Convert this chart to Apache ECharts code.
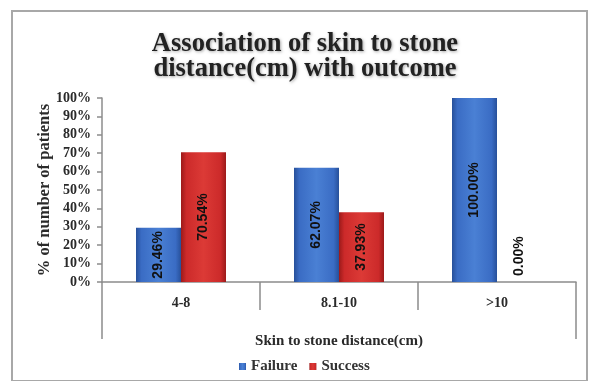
<!DOCTYPE html>
<html>
<head>
<meta charset="utf-8">
<script src="https://cdn.jsdelivr.net/npm/echarts@6/dist/echarts.min.js"></script>
<style>
  html, body { margin: 0; padding: 0; background: #fff; }
  #frame { position: absolute; left: 11px; top: 10px; width: 577px; height: 372px; border: 2px solid #a8a8a8; box-sizing: border-box; }
  #chart { position: absolute; left: 0; top: 0; width: 598px; height: 381px; }
</style>
</head>
<body>
<div id="frame"></div>
<div id="chart"></div>
<script>
var categories = ['4-8', '8.1-10', '>10'];
var failureValues = [29.46, 62.07, 100.00];
var successValues = [70.54, 37.93, 0.00];
var seriesNames = ['Failure', 'Success'];
var yTickMax = 100;
var yTickStep = 10;

var serif = '"Liberation Serif", "Times New Roman", serif';
var sans = '"Liberation Sans", Arial, sans-serif';

function grad(dark, base, light) {
  return new echarts.graphic.LinearGradient(0, 0, 1, 0, [
    { offset: 0, color: dark },
    { offset: 0.12, color: base },
    { offset: 0.5, color: light },
    { offset: 0.88, color: base },
    { offset: 1, color: dark }
  ]);
}

var barLabel = {
  show: true,
  position: 'inside',
  rotate: 90,
  fontFamily: sans,
  fontWeight: 'bold',
  fontSize: 14,
  color: '#111',
  formatter: function (p) { return p.value.toFixed(2) + '%'; }
};

function toData(values) {
  return values.map(function (v) {
    if (v === 0) {
      return { value: v, label: { position: 'insideBottom', align: 'left', verticalAlign: 'middle', distance: 6 } };
    }
    return v;
  });
}

var chart = echarts.init(document.getElementById('chart'), null, { renderer: 'canvas' });
chart.setOption({
  animation: false,
  backgroundColor: 'transparent',
  title: {
    text: 'Association of skin to stone\ndistance(cm) with outcome',
    left: 300,
    textAlign: 'center',
    top: 27,
    textStyle: {
      fontFamily: serif,
      fontWeight: 'bold',
      fontSize: 26.5,
      lineHeight: 25,
      color: '#222',
      textShadowColor: 'rgba(0,0,0,0.35)',
      textShadowBlur: 3,
      textShadowOffsetX: 1,
      textShadowOffsetY: 1
    }
  },
  legend: {
    data: seriesNames,
    left: 234,
    top: 354,
    itemWidth: 7,
    itemHeight: 7,
    itemGap: 12,
    icon: 'rect',
    textStyle: { fontFamily: serif, fontWeight: 'bold', fontSize: 15, color: '#333' }
  },
  grid: { left: 102, right: 22, top: 98, bottom: 99, containLabel: false },
  xAxis: [{
    type: 'category',
    data: categories,
    position: 'bottom',
    axisLine: { show: true, lineStyle: { color: '#8c8c8c', width: 1.5 } },
    axisTick: { show: true, interval: 0, length: 28, lineStyle: { color: '#8c8c8c', width: 1.5 } },
    axisLabel: { margin: 14, fontFamily: serif, fontWeight: 'bold', fontSize: 14, color: '#2a2a2a' },
    name: 'Skin to stone distance(cm)',
    nameLocation: 'middle',
    nameGap: 52,
    nameMoveOverlap: false,
    nameTextStyle: { fontFamily: serif, fontWeight: 'bold', fontSize: 15, color: '#2a2a2a' }
  }, {
    type: 'value',
    position: 'bottom',
    min: 0, max: 1, interval: 1,
    axisLine: { show: false },
    axisTick: { show: true, length: 57, lineStyle: { color: '#8c8c8c', width: 1.5 } },
    axisLabel: { show: false },
    splitLine: { show: false }
  }],
  yAxis: {
    type: 'value',
    min: 0,
    max: yTickMax,
    interval: yTickStep,
    axisLine: { show: true, lineStyle: { color: '#8c8c8c', width: 1.5 } },
    axisTick: { show: true, length: 5, lineStyle: { color: '#8c8c8c', width: 1.5 } },
    splitLine: { show: false },
    axisLabel: { margin: 11, fontFamily: serif, fontWeight: 'bold', fontSize: 14, color: '#2a2a2a', formatter: '{value}%' },
    name: '% of number of patients',
    nameLocation: 'middle',
    nameGap: 49,
    nameMoveOverlap: false,
    nameTextStyle: { fontFamily: serif, fontWeight: 'bold', fontSize: 16.5, color: '#2a2a2a' }
  },
  series: [{
    name: seriesNames[0],
    type: 'bar',
    xAxisIndex: 0,
    barWidth: 45,
    barGap: '0%',
    itemStyle: { color: grad('#27509a', '#3a6cc4', '#4a80d4') },
    label: barLabel,
    data: toData(failureValues)
  }, {
    name: seriesNames[1],
    type: 'bar',
    xAxisIndex: 0,
    barWidth: 45,
    barGap: '0%',
    itemStyle: { color: grad('#9c1a1a', '#cc2a2a', '#dc3a36') },
    label: barLabel,
    data: toData(successValues)
  }]
});
</script>
</body>
</html>
